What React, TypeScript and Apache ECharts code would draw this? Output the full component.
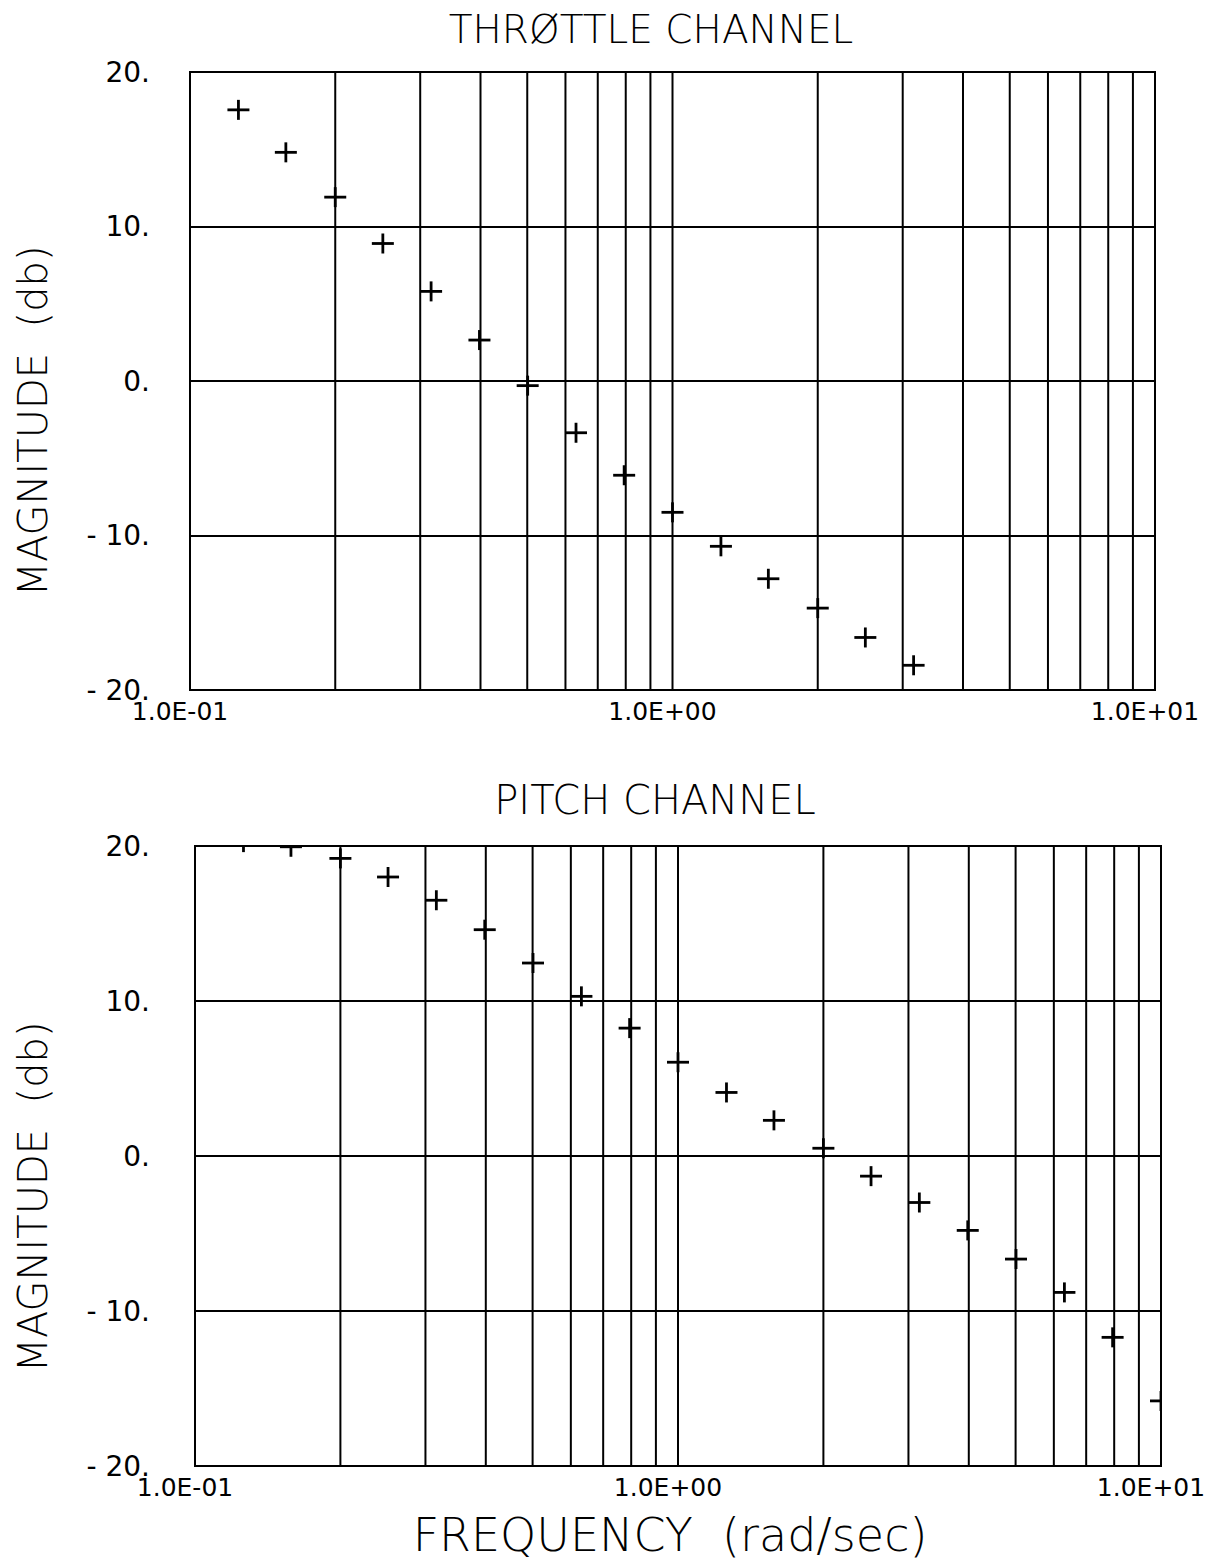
import React, { useEffect, useRef } from "react";
import * as echarts from "echarts";

// Frequencies (rad/sec) of the plotted points
const throttleFreq = [0.126, 0.158, 0.2, 0.251, 0.316, 0.398, 0.501, 0.631, 0.794, 1.0, 1.26, 1.58, 2.0, 2.51, 3.16];
const throttleDb = [17.55, 14.8, 11.9, 8.9, 5.8, 2.65, -0.3, -3.35, -6.1, -8.5, -10.7, -12.8, -14.7, -16.6, -18.4];

const pitchFreq = [0.126, 0.158, 0.2, 0.251, 0.316, 0.398, 0.501, 0.631, 0.794, 1.0, 1.26, 1.58, 2.0, 2.51, 3.16, 3.98, 5.01, 6.31, 7.94, 10.0];
const pitchDb = [20.25, 19.95, 19.2, 18.0, 16.5, 14.6, 12.45, 10.3, 8.25, 6.05, 4.1, 2.3, 0.5, -1.3, -3.0, -4.8, -6.65, -8.8, -11.7, -15.8];

// Log grid line positions
const gridFreqs = [0.2, 0.3, 0.4, 0.5, 0.6, 0.7, 0.8, 0.9, 1, 2, 3, 4, 5, 6, 7, 8, 9];
const xTickLabels: Record<string, string> = { "0.1": "1.0E-01", "1": "1.0E+00", "10": "1.0E+01" };

const titles = ["THRØTTLE CHANNEL", "PITCH CHANNEL"];
const yName = "MAGNITUDE  (db)";
const xName = "FREQUENCY  (rad/sec)";

const FONT = "DejaVu Sans";

export default function App() {
  const ref = useRef<HTMLDivElement>(null);
  useEffect(() => {
    if (!ref.current) return;
    const chart = echarts.init(ref.current, null, { renderer: "svg" });

    const grids = [
      { left: 190, top: 72, width: 965, height: 618 },
      { left: 195, top: 846, width: 966, height: 620 },
    ];

    const xAxes = grids.map((_, i) => ({
      type: "log",
      logBase: 10,
      min: 0.1,
      max: 10,
      gridIndex: i,
      axisLine: { show: false },
      axisTick: { show: false },
      splitLine: { show: false },
      minorTick: { show: false },
      axisLabel: {
        color: "#000",
        fontFamily: FONT,
        fontSize: 25,
        margin: 9,
        padding: [0, 20, 0, 0],
        formatter: (v: number) => xTickLabels[String(+v.toPrecision(3))] ?? "",
      },
    }));

    const yAxes = grids.map((_, i) => ({
      type: "value",
      min: -20,
      max: 20,
      interval: 10,
      gridIndex: i,
      axisLine: { show: false },
      axisTick: { show: false },
      splitLine: { show: true, lineStyle: { color: "#000", width: 2 } },
      axisLabel: {
        color: "#000",
        fontFamily: FONT,
        fontSize: 28,
        margin: i === 0 ? 40 : 45,
        padding: [6, 0, 0, 0],
        formatter: (v: number) => (v < 0 ? "- " + -v + "." : v + "."),
      },
    }));

    const gridLineSeries = (idx: number) => ({
      type: "custom",
      xAxisIndex: idx,
      yAxisIndex: idx,
      silent: true,
      data: gridFreqs.map((f) => [f]),
      renderItem: (params: any, api: any) => {
        const a = api.coord([api.value(0), 20]);
        const b = api.coord([api.value(0), -20]);
        return {
          type: "line",
          shape: { x1: a[0], y1: a[1], x2: b[0], y2: b[1] },
          style: { stroke: "#000", lineWidth: 2 },
        };
      },
    });

    const plusSeries = (xs: number[], ys: number[], idx: number) => ({
      type: "custom",
      xAxisIndex: idx,
      yAxisIndex: idx,
      silent: true,
      z: 5,
      data: xs.map((x, k) => [x, ys[k]]),
      renderItem: (params: any, api: any) => {
        const p = api.coord([api.value(0), api.value(1)]);
        const cs = params.coordSys;
        const box = { x: cs.x, y: cs.y, width: cs.width, height: cs.height };
        const h = echarts.graphic.clipRectByRect(
          { x: p[0] - 11, y: p[1] - 1.4, width: 22, height: 2.8 } as any,
          box as any
        );
        const v = echarts.graphic.clipRectByRect(
          { x: p[0] - 1.4, y: p[1] - 10, width: 2.8, height: 20 } as any,
          box as any
        );
        const children: any[] = [];
        if (h) children.push({ type: "rect", shape: h, style: { fill: "#000" } });
        if (v) children.push({ type: "rect", shape: v, style: { fill: "#000" } });
        return { type: "group", children };
      },
    });

    const txt = (text: string, x: number, y: number, size: number, rot = 0) => ({
      type: "text",
      x,
      y,
      rotation: rot,
      style: {
        text,
        font: `200 ${size}px "${FONT}"`,
        fill: "#000",
        align: "center",
        verticalAlign: "middle",
      },
    });

    chart.setOption({
      animation: false,
      backgroundColor: "#fff",
      grid: grids.map((g) => ({
        ...g,
        show: true,
        borderColor: "#000",
        borderWidth: 2,
        backgroundColor: "transparent",
      })),
      xAxis: xAxes,
      yAxis: yAxes,
      series: [
        gridLineSeries(0),
        gridLineSeries(1),
        plusSeries(throttleFreq, throttleDb, 0),
        plusSeries(pitchFreq, pitchDb, 1),
      ],
      graphic: [
        txt(titles[0], 651, 29, 39),
        txt(titles[1], 655, 800, 40),
        txt(yName, 33, 421, 40, Math.PI / 2),
        txt(yName, 33, 1197, 40, Math.PI / 2),
        txt(xName, 670, 1535, 46),
      ],
    });
    return () => chart.dispose();
  }, []);
  return (
    <div
      ref={ref}
      style={{ position: "absolute", left: 0, top: 0, width: 1212, height: 1561 }}
    />
  );
}
